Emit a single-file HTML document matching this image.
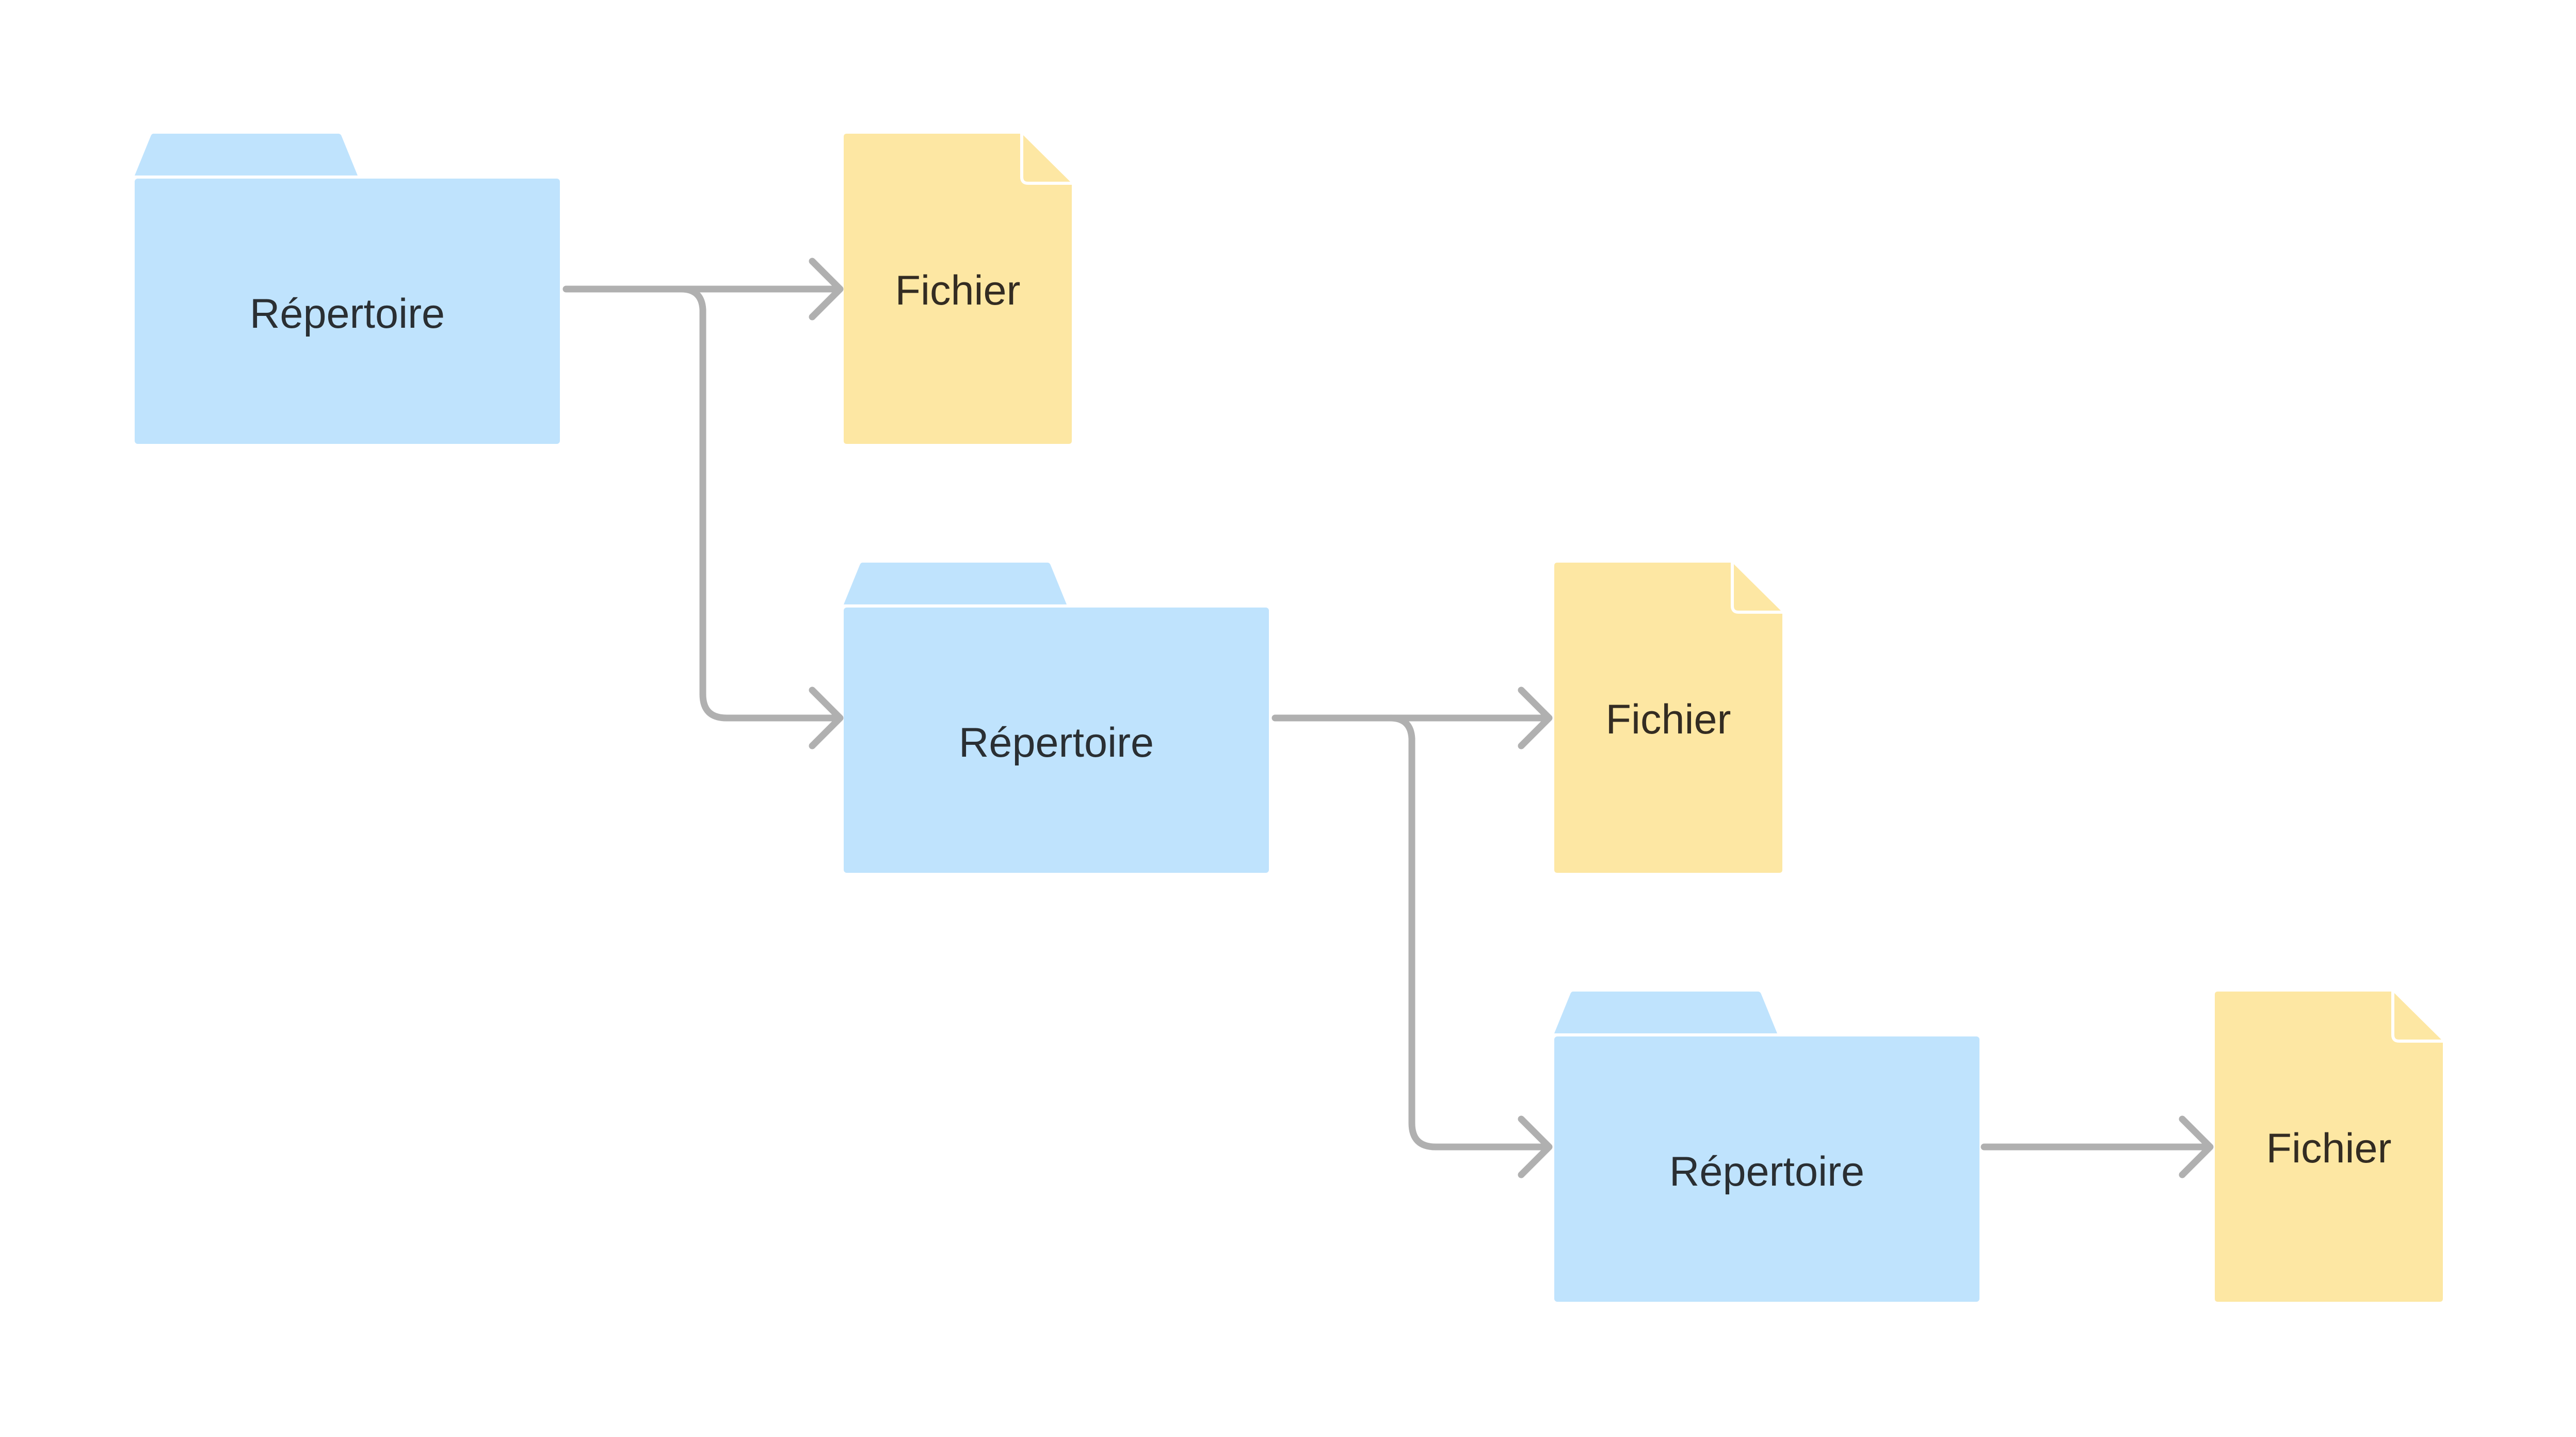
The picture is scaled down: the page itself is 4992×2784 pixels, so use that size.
<!DOCTYPE html>
<html><head><meta charset="utf-8"><style>
html,body{margin:0;padding:0;background:#fff;}
svg{display:block;}
text{font-family:"Liberation Sans",sans-serif;font-size:81px;text-anchor:middle;}
</style></head><body>
<svg width="4992" height="2784" viewBox="0 0 4992 2784" xmlns="http://www.w3.org/2000/svg">
<defs>
<g id="folder">
  <path d="M297 259 H656 Q660 259 662 264 L693 340 H261 L292 264 Q294 259 297 259 Z" fill="#bfe3fd"/>
  <rect x="261" y="346" width="824" height="514" rx="6" fill="#bfe3fd"/>
  <text x="673" y="635" fill="#2a2f33">Répertoire</text>
</g>
<g id="file">
  <path d="M1641 259 H1980 L2077 355 V854 Q2077 860 2071 860 H1641 Q1635 860 1635 854 V265 Q1635 259 1641 259 Z" fill="#fde7a3"/>
  <path d="M1980 259 V343 Q1980 355 1992 355 H2077" fill="none" stroke="#fff" stroke-width="6"/>
  <text x="1856" y="590" fill="#332c22">Fichier</text>
</g>
<g id="arrowhead">
  <polyline points="1574,506 1628,560 1574,614" fill="none" stroke="#b0b0b0" stroke-width="13" stroke-linecap="round" stroke-linejoin="round"/>
</g>
</defs>

<!-- connectors -->
<g fill="none" stroke="#b0b0b0" stroke-width="13" stroke-linecap="round">
  <path d="M1097 560 H1626"/>
  <path d="M1320 560 Q1360 560 1362 600 V1345 Q1362 1391 1408 1391 H1626"/>
  <g transform="translate(1374,831)">
    <path d="M1097 560 H1626"/>
    <path d="M1320 560 Q1360 560 1362 600 V1345 Q1362 1391 1408 1391 H1626"/>
  </g>
  <path d="M3845 2222 H4280"/>
</g>
<use href="#arrowhead"/>
<use href="#arrowhead" transform="translate(0,831)"/>
<use href="#arrowhead" transform="translate(1374,831)"/>
<use href="#arrowhead" transform="translate(1374,1662)"/>
<use href="#arrowhead" transform="translate(2655,1662)"/>

<use href="#folder"/>
<use href="#file"/>
<use href="#folder" transform="translate(1374,831)"/>
<use href="#file" transform="translate(1377,831)"/>
<use href="#folder" transform="translate(2751,1662)"/>
<use href="#file" transform="translate(2657,1662)"/>
</svg>
</body></html>
